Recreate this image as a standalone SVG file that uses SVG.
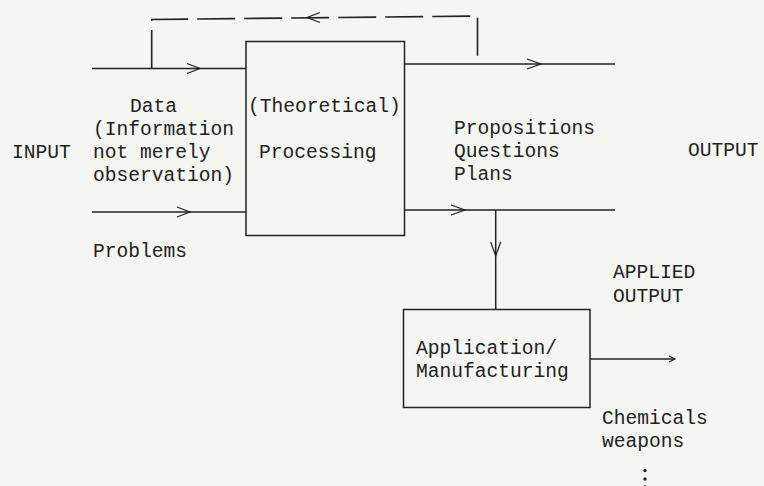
<svg xmlns="http://www.w3.org/2000/svg" width="764" height="486" viewBox="0 0 764 486">
<defs>
<style>
text{font-family:"Liberation Mono","DejaVu Sans Mono",monospace;font-size:19.6px;fill:#222}
.ln{fill:none;stroke:#222;stroke-width:1.5}
.box{fill:none;stroke:#222;stroke-width:1.5}
.dash{fill:none;stroke:#222;stroke-width:1.6;stroke-dasharray:38 9}
.chev{fill:none;stroke:#222;stroke-width:1.2}
</style>
</defs>
<rect x="0" y="0" width="764" height="486" fill="#f5f5f2"/>
<g id="connectors">
<path class="ln" d="M92,68.5 H246"/>
<polyline class="chev" points="187,63.5 200,68.5 187,73.5"/>
<path class="ln" d="M92,212 H246"/>
<polyline class="chev" points="177,207 190,212 177,217"/>
<path class="ln" d="M404,64 H615"/>
<polyline class="chev" points="527,59 541,64 527,69"/>
<path class="ln" d="M404,210 H615"/>
<polyline class="chev" points="451,205 465,210 451,215"/>
<path class="ln" d="M495.7,210 V309"/>
<polyline class="chev" points="490.7,242 495.7,256 500.7,242"/>
<path class="ln" d="M590,359 H675"/>
<polyline class="chev" points="669,356 675,359 669,362"/>
<path class="dash" d="M151.7,68 V19.5 L477.5,16 V64"/>
<polyline class="chev" points="320,12.5 307,17.5 320,22.5"/>
</g>
<g id="processing">
<rect class="box" x="246" y="41.5" width="158.5" height="194"/>
<text x="248" y="112">(Theoretical)</text>
<text x="259" y="158">Processing</text>
</g>
<g id="application">
<rect class="box" x="403.5" y="309.5" width="186.5" height="98"/>
<text x="416" y="354">Application/</text>
<text x="416" y="377">Manufacturing</text>
</g>
<g id="labels">
<text x="12" y="158">INPUT</text>
<text x="130" y="112">Data</text>
<text x="93" y="135">(Information</text>
<text x="93" y="158">not merely</text>
<text x="93" y="181">observation)</text>
<text x="93" y="257">Problems</text>
<text x="454" y="134">Propositions</text>
<text x="454" y="157">Questions</text>
<text x="454" y="180">Plans</text>
<text x="688" y="156">OUTPUT</text>
<text x="613" y="278">APPLIED</text>
<text x="613" y="302">OUTPUT</text>
<text x="602" y="424">Chemicals</text>
<text x="602" y="447">weapons</text>
<circle cx="645" cy="470.5" r="1.7" fill="#222"/>
<circle cx="645" cy="479" r="1.7" fill="#222"/>
<circle cx="645" cy="487" r="1.7" fill="#222"/>
</g>
</svg>
